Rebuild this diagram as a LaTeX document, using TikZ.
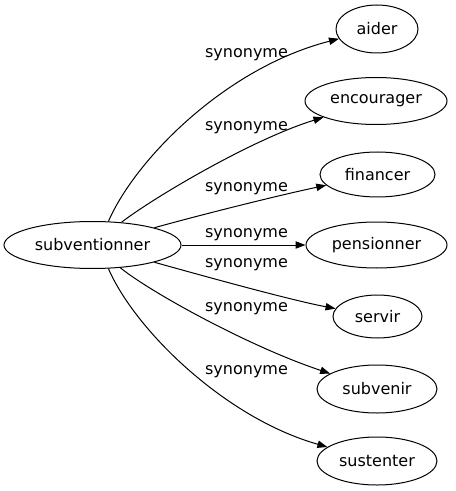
\documentclass[tikz,border=0pt]{standalone}
\usepackage{fontspec}
\setmainfont{DejaVu Sans}
\usetikzlibrary{shapes.geometric,arrows.meta}
\begin{document}
\begin{tikzpicture}[x=0.75pt,y=-0.75pt,
  word/.style={ellipse,draw,line width=0.75pt,inner sep=0pt,font=\fontsize{12pt}{14pt}\selectfont},
  lbl/.style={inner sep=0pt,font=\fontsize{12pt}{14pt}\selectfont},
  edge/.style={draw,line width=0.75pt,-{Triangle[length=7.5pt,width=5.5pt]}}]
\useasboundingbox (0,0) rectangle (455,491);
\node[word,minimum width=177*0.75pt,minimum height=47*0.75pt] (s) at (92.5,245) {subventionner};
\node[word,minimum width=82*0.75pt,minimum height=48*0.75pt] (a) at (377,29) {aider};
\node[word,minimum width=142*0.75pt,minimum height=47*0.75pt] (b) at (376,101) {encourager};
\node[word,minimum width=115*0.75pt,minimum height=45*0.75pt] (c) at (377.5,174.5) {financer};
\node[word,minimum width=141*0.75pt,minimum height=46*0.75pt] (d) at (376.5,245) {pensionner};
\node[word,minimum width=89*0.75pt,minimum height=43*0.75pt] (e) at (377.5,316.5) {servir};
\node[word,minimum width=120*0.75pt,minimum height=48*0.75pt] (f) at (377,389) {subvenir};
\node[word,minimum width=120*0.75pt,minimum height=48*0.75pt] (g) at (377,461) {sustenter};
\node[lbl] (l1) at (246.5,55) {synonyme};
\node[lbl] (l2) at (246.5,128) {synonyme};
\node[lbl] (l3) at (246.5,189) {synonyme};
\node[lbl] (l4) at (246.5,235) {synonyme};
\node[lbl] (l5) at (246.5,265) {synonyme};
\node[lbl] (l6) at (246.5,309) {synonyme};
\node[lbl] (l7) at (246.5,372) {synonyme};
\path[edge] (s.56) .. controls (135,160) and (225,68) .. (a);
\path[edge] (s) .. controls (150,200) and (250,140) .. (b);
\path[edge] (s) .. controls (200,215) and (280,195) .. (c);
\path[edge] (s) -- (d);
\path[edge] (s) .. controls (200,275) and (290,300) .. (e);
\path[edge] (s) .. controls (150,292) and (250,347) .. (f);
\path[edge] (s.-56) .. controls (135,330) and (225,418) .. (g);
\end{tikzpicture}
\end{document}
